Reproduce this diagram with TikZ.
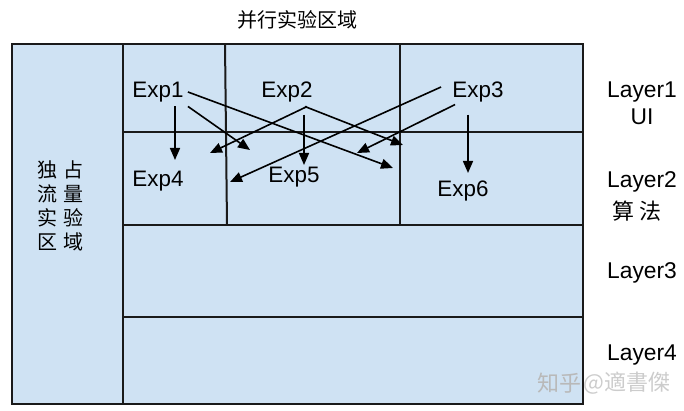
\documentclass[tikz,border=0pt]{standalone}
\usepackage{fontspec}
\setmainfont{Liberation Sans}
\newfontfamily\cjk{Noto Sans CJK SC}
\usetikzlibrary{arrows.meta,calc,positioning}
\definecolor{cellblue}{HTML}{CFE2F3}
\definecolor{gridline}{HTML}{1A1A1A}
\newcommand\zhpair[2]{#1\kern3pt#2}

\begin{document}
\begin{tikzpicture}[x=0.5pt, y=-0.5pt,
  grid/.style={draw=gridline, line width=1pt},
  exp/.style={font=\fontsize{11.2}{13}\selectfont, inner sep=2pt},
  layer/.style={font=\fontsize{11.4}{13}\selectfont, inner sep=1pt},
  zh/.style={font=\cjk\fontsize{10}{12}\selectfont, inner sep=1pt},
  wmark/.style={font=\cjk\fontsize{11}{13}\selectfont, inner sep=0pt},
  arr/.style={-{Triangle[length=6pt,width=5pt]}, line width=0.8pt, draw=black}
]
  \useasboundingbox (0,0) rectangle (684,411);

  % regions
  \fill[cellblue] (12,44) rectangle (583,404);
  \draw[grid] (12,44) rectangle (583,404);
  \draw[grid] (123,44) -- (123,404);
  \foreach \y in {132,225,317}
    \draw[grid] (123,\y) -- (583,\y);
  \draw[grid] (225,44) -- (227,225);
  \draw[grid] (400,44) -- (400,225);

  % labels
  \foreach \a/\b [count=\i] in {独/占, 流/量, 实/验, 区/域} {
    \node[zh] (exclL\i) at (47,146+24*\i) {\a};
    \node[zh] (exclR\i) at (73,146+24*\i) {\b};
  }
  \node[zh] (title) at (297,20) {并行实验区域};
  \node[layer] (layer1) at (642,92)  {Layer1};
  \node[layer] (ui)     at (642,117) {UI};
  \node[layer] (layer2) at (642,182) {Layer2};
  \node[zh, font=\cjk\fontsize{11}{13}\selectfont] (algo) at (637,211) {\zhpair{算}{法}};
  \node[layer] (layer3) at (642,273) {Layer3};
  \node[layer] (layer4) at (642,355) {Layer4};

  % experiments
  \node[exp] (exp1) at (158,92)  {Exp1};
  \node[exp] (exp2) at (287,92)  {Exp2};
  \node[exp] (exp3) at (478,92)  {Exp3};
  \node[exp] (exp4) at (158,181) {Exp4};
  \node[exp] (exp5) at (294,177) {Exp5};
  \node[exp] (exp6) at (463,191) {Exp6};

  \coordinate (tip1a) at (175,160);
  \coordinate (tip1b) at (250,150);
  \coordinate (tip1c) at (393,168);
  \coordinate (tip2a) at (210,153);
  \coordinate (tip2b) at (304,165);
  \coordinate (tip2c) at (403,145);
  \coordinate (tip3a) at (230,182);
  \coordinate (tip3b) at (357,153);
  \coordinate (tip3c) at (468,173);

  \draw[arr] (exp1.south -| tip1a) -- (tip1a);
  \draw[arr] (exp1.south east) -- (tip1b);
  \draw[arr] (exp1.east) -- (tip1c);
  \draw[arr] (exp2.-36) -- (tip2a);
  \draw[arr, shorten <=4pt] (exp2.south -| tip2b) -- (tip2b);
  \draw[arr] (exp2.-39) -- (tip2c);
  \draw[arr] ($(exp3.west)+(-7,-5)$) -- (tip3a);
  \draw[arr] ($(exp3.south west)+(7,-2)$) -- (tip3b);
  \draw[arr, shorten <=4pt] (exp3.south -| tip3c) -- (tip3c);

  % watermark
  \node[wmark, text=gray!55] (zhihu) at (559,383) {知乎};
  \node[wmark, text=gray!40, right=1pt of zhihu] (author) {@適書傑};
\end{tikzpicture}
\end{document}
